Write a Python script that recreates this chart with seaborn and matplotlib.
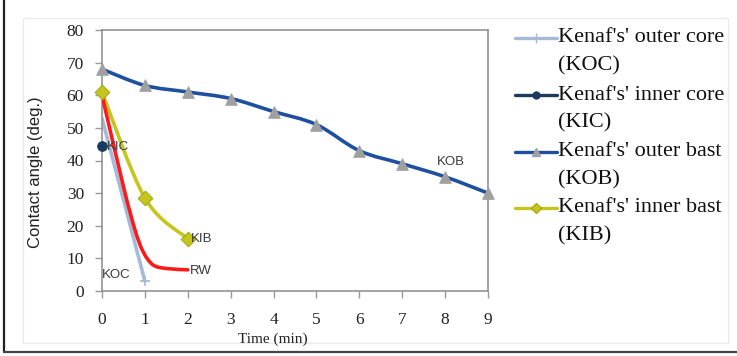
import numpy as np
import pandas as pd
import matplotlib
matplotlib.use("Agg")
import matplotlib.pyplot as plt
import seaborn as sns
from matplotlib.path import Path
from matplotlib.patches import PathPatch, Rectangle
from matplotlib.lines import Line2D

# ---------------- data ----------------
kob_time = [0, 1, 2, 3, 4, 5, 6, 7, 8, 9]
kob_angle = [68, 63, 61, 59, 55, 51, 43, 39, 35, 30]

kib_time = [0, 1, 2]
kib_angle = [61, 28.5, 16]

koc_time = [0, 1]
koc_angle = [53, 3]

kic_time = [0]
kic_angle = [44.5]

rw_time = [0, 0.5, 0.77, 0.96, 1.19, 1.5, 2.0]
rw_angle = [60, 32, 18.7, 12, 8, 6.9, 6.5]

x_ticks = list(range(0, 10))
y_ticks = list(range(0, 90, 10))

legend_lines1 = ["Kenaf's' outer core", "Kenaf's' inner core", "Kenaf's' outer bast", "Kenaf's' inner bast"]
legend_lines2 = ["(KOC)", "(KIC)", "(KOB)", "(KIB)"]

# ---------------- style ----------------
sns.set_style("white")
plt.rcParams['font.family'] = ['Liberation Serif', 'DejaVu Serif']

W, H = 737, 356
fig = plt.figure(figsize=(W / 100, H / 100), dpi=100)

def fx(px):
    return px / W

def fy(py):
    return 1 - py / H

ax = fig.add_axes([fx(102), fy(291), fx(488) - fx(102), fy(30) - fy(291)])

c_koc = "#a3bad8"
c_kic = "#1b3b5e"
c_kob = "#1f4f9f"
c_kob_m = "#a0a0a0"
c_kib = "#c5c51e"
c_rw = "#ff1a1a"


def smooth_path(xs, ys):
    pts = np.column_stack([xs, ys]).astype(float)
    n = len(pts)
    verts = [pts[0]]
    codes = [Path.MOVETO]
    for i in range(n - 1):
        p0 = pts[i - 1] if i > 0 else pts[i]
        p1 = pts[i]
        p2 = pts[i + 1]
        p3 = pts[i + 2] if i + 2 < n else pts[i + 1]
        c1 = p1 + (p2 - p0) / 6.0
        c2 = p2 - (p3 - p1) / 6.0
        verts += [c1, c2, p2]
        codes += [Path.CURVE4] * 3
    return Path(verts, codes)


# smooth lines
ax.add_patch(PathPatch(smooth_path(kob_time, kob_angle), fill=False, edgecolor=c_kob, lw=2.6, zorder=3))
ax.add_patch(PathPatch(smooth_path(kib_time, kib_angle), fill=False, edgecolor=c_kib, lw=2.6, zorder=3))
ax.add_patch(PathPatch(smooth_path(rw_time, rw_angle), fill=False, edgecolor=c_rw, lw=2.6, zorder=3,
                       capstyle="round", joinstyle="round"))

# straight KOC line
koc_df = pd.DataFrame({"t": koc_time, "a": koc_angle})
sns.lineplot(data=koc_df, x="t", y="a", ax=ax, color=c_koc, lw=2.6, zorder=2)
ax.scatter(koc_time[1:], koc_angle[1:], marker="+", s=50, color=c_koc, zorder=4, clip_on=False, linewidths=1.2)

# markers
kob_df = pd.DataFrame({"t": kob_time, "a": kob_angle})
sns.scatterplot(data=kob_df, x="t", y="a", ax=ax, marker="^", s=70, color=c_kob_m,
                edgecolor=c_kob_m, zorder=5, clip_on=False)
kib_df = pd.DataFrame({"t": kib_time, "a": kib_angle})
sns.scatterplot(data=kib_df, x="t", y="a", ax=ax, marker="D", s=55, color=c_kib,
                edgecolor="#a9a915", linewidth=0.8, zorder=5, clip_on=False)
kic_df = pd.DataFrame({"t": kic_time, "a": kic_angle})
sns.scatterplot(data=kic_df, x="t", y="a", ax=ax, marker="o", s=50, color=c_kic,
                edgecolor=c_kic, zorder=5, clip_on=False)

# annotations
lab_kw = dict(family=['Liberation Sans', 'DejaVu Sans'], fontsize=9.5, color="#3a3a3a", va="center", ha="left", zorder=6)
ax.text(kic_time[0] + 0.12, kic_angle[0] - 0.5, "KIC", **lab_kw)
ax.text(kib_time[-1] + 0.08, kib_angle[-1], "KIB", **lab_kw)
ax.text(rw_time[-1] + 0.06, rw_angle[-1] - 0.3, "RW", **lab_kw)
ax.text(0.0, 5, "KOC", **lab_kw)
ax.text(7.8, 39.5, "KOB", **lab_kw)

# axes
ax.set_xlim(0, 9)
ax.set_ylim(0, 80)
ax.set_xticks(x_ticks)
ax.set_yticks(y_ticks)
ax.set_xlabel("")
ax.set_ylabel("")
for s in ax.spines.values():
    s.set_color("#8a8a8a")
    s.set_linewidth(1.1)
    s.set_visible(True)
ax.tick_params(axis="both", direction="out", length=5, width=1.0, color="#9a9a9a",
               labelsize=12.5, labelcolor="#222222")
ax.tick_params(axis="x", pad=10, bottom=True)
ax.tick_params(axis="y", pad=8, left=True)

fig.text(fx(36), fy(172), "Contact angle (deg.)", rotation=90, ha="center", va="center",
         family=['Liberation Sans', 'DejaVu Sans'], fontsize=12, color="#222222")
fig.text(fx(273), fy(339), "Time (min)", ha="center", va="center", fontsize=11, color="#222222")

# legend (manual)
leg_y = [38, 95, 152, 208]
leg_styles = [
    dict(color=c_koc, marker="+", mfc=c_koc, mec=c_koc, ms=7),
    dict(color=c_kic, marker="o", mfc=c_kic, mec=c_kic, ms=5),
    dict(color=c_kob, marker="^", mfc=c_kob_m, mec=c_kob_m, ms=6),
    dict(color=c_kib, marker="D", mfc=c_kib, mec="#a9a915", ms=5),
]
for yy, st, l1, l2 in zip(leg_y, leg_styles, legend_lines1, legend_lines2):
    fig.add_artist(Line2D([fx(515), fx(557)], [fy(yy), fy(yy)], lw=2.4, color=st["color"]))
    fig.add_artist(Line2D([fx(536)], [fy(yy)], marker=st["marker"], mfc=st["mfc"], mec=st["mec"],
                          ms=st["ms"], lw=0))
    fig.text(fx(558), fy(yy), l1, ha="left", va="center", fontsize=16, color="#111111")
    fig.text(fx(558), fy(yy + 28), l2, ha="left", va="center", fontsize=16, color="#111111")

# outer frames
fig.add_artist(Rectangle((fx(23), fy(343)), fx(728) - fx(23), fy(18) - fy(343), fill=False,
                         edgecolor="#ebebeb", lw=1.0))
fig.add_artist(Line2D([fx(3.5), fx(3.5)], [fy(0), fy(352)], color="#222222", lw=1.6))
fig.add_artist(Line2D([fx(3.5), fx(737)], [fy(352), fy(352)], color="#444444", lw=1.6))

fig.savefig("out.png", dpi=100)
